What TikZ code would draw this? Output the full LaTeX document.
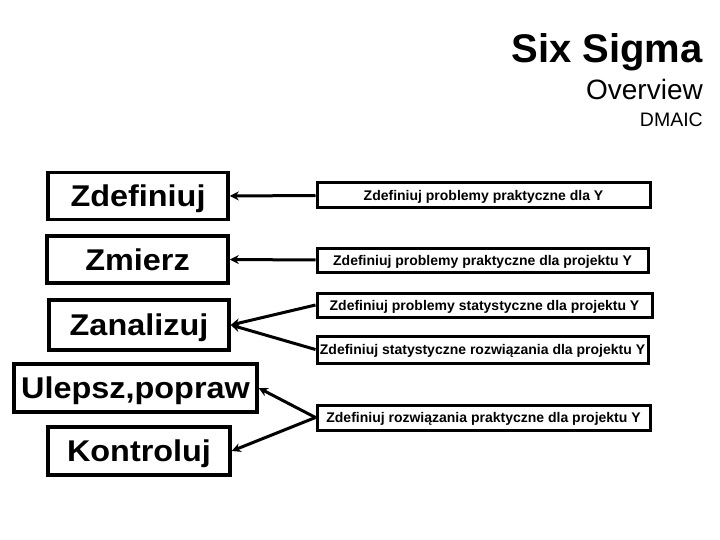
\documentclass[tikz,border=0pt]{standalone}
\usepackage{fontspec}
\setmainfont{Liberation Sans}
\newfontfamily\widebold[FakeStretch=1.08]{Liberation Sans Bold}
\usetikzlibrary{arrows.meta}
\tikzset{
  bigbox/.style={draw, line width=3.5pt, inner sep=0pt, minimum height=47pt,
    text depth=0pt, font=\widebold\fontsize{30}{33}\selectfont},
  smallbox/.style={draw, line width=3pt, inner sep=0pt, minimum height=25pt,
    text depth=0pt, font=\bfseries\fontsize{14}{16}\selectfont},
  conn/.style={line width=3pt, -{Stealth[length=9pt,width=9pt]}},
  title/.style={anchor=base east, inner sep=0pt}
}
\begin{document}
\begin{tikzpicture}[x=1pt,y=-1pt]
\useasboundingbox (0,0) rectangle (720,540);
\node[title, font=\bfseries\fontsize{40}{44}\selectfont] (t1) at (703,63) {Six Sigma};
\node[title, font=\fontsize{28}{31}\selectfont] (t2) at (703,100) {Overview};
\node[title, font=\fontsize{19.5}{22}\selectfont] (t3) at (703,127) {DMAIC};

\node[bigbox, minimum width=180pt] (d) at (138,196) {Zdefiniuj};
\node[bigbox, minimum width=181pt] (m) at (137.5,259.5) {Zmierz};
\node[bigbox, minimum width=180pt, minimum height=50pt] (a) at (139,325) {Zanalizuj};
\node[bigbox, minimum width=243pt, minimum height=48pt] (i) at (135.5,388) {Ulepsz,popraw};
\node[bigbox, minimum width=182pt, minimum height=48pt] (c) at (139,451) {Kontroluj};

\node[smallbox, minimum width=333pt] (b1) at (483.5,195.5) {Zdefiniuj problemy praktyczne dla Y};
\node[smallbox, minimum width=331pt, minimum height=24pt] (b2) at (482.5,260) {Zdefiniuj problemy praktyczne dla projektu Y};
\node[smallbox, minimum width=335pt, minimum height=24pt] (b3) at (484.5,305) {Zdefiniuj problemy statystyczne dla projektu Y};
\node[smallbox, minimum width=331pt, minimum height=27pt] (b4) at (482.5,349.5) {Zdefiniuj statystyczne rozwiązania dla projektu Y};
\node[smallbox, minimum width=333pt] (b5) at (483.5,417.5) {Zdefiniuj rozwiązania praktyczne dla projektu Y};

\draw[conn] (b1.west) -- (d.east);
\draw[conn] (b2.west) -- (m.east);
\draw[conn] (b3.west) -- (a.east);
\draw[conn] (b4.west) -- (a.east);
\draw[conn] (b5.west) -- (i.east);
\draw[conn] (b5.west) -- (c.east);
\end{tikzpicture}
\end{document}
